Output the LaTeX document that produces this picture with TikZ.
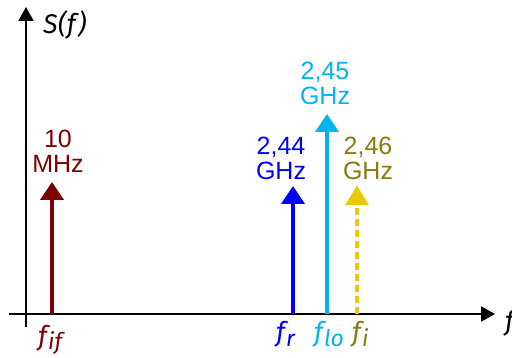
\documentclass[tikz,border=0pt]{standalone}
\usepackage{fontspec}
\setmainfont{Liberation Sans}
\newfontfamily\ffam{Fira Sans}
\usetikzlibrary{arrows.meta}
\definecolor{cif}{HTML}{7F0000}
\definecolor{cr}{HTML}{0000FF}
\definecolor{clo}{HTML}{00B4F0}
\definecolor{citext}{HTML}{8A7A10}
\definecolor{ciarr}{HTML}{E6CC00}
\newcommand{\fsub}[1]{f\kern1pt\raisebox{-5pt}{\fontsize{23}{23}\selectfont #1}}
\tikzset{
  axis/.style={line width=2pt,-{Triangle[length=14pt,width=15pt]}},
  spec/.style={line width=4pt,-{Triangle[length=18pt,width=23pt]}},
  lbl/.style={font=\fontsize{25}{25}\selectfont,align=center,inner sep=0pt},
  flbl/.style={font=\ffam\itshape\fontsize{27}{27}\selectfont,inner sep=0pt,anchor=base},
}
\begin{document}
\begin{tikzpicture}[x=1pt,y=-1pt]
\useasboundingbox (0,0) rectangle (512,358);
% axes
\coordinate (xs) at (9,314);
\coordinate (xe) at (495,314);
\coordinate (ys) at (26,327);
\coordinate (ye) at (26,7);
\draw[axis] (xs) -- (xe);
\draw[axis] (ys) -- (ye);
\node[flbl,anchor=base west] (fl) at (505,331) {f};
\node[flbl,anchor=base west,font=\ffam\itshape\fontsize{27}{27}\selectfont] (sl) at (43,34) {S(f)};
% spectral lines
\coordinate (bif) at (52,314); \coordinate (tif) at (52,182);
\coordinate (br) at (293,314); \coordinate (tr) at (293,186);
\coordinate (blo) at (327,314); \coordinate (tlo) at (327,114);
\coordinate (bi) at (357,314); \coordinate (ti) at (357,186);
\draw[spec,cif] (bif) -- (tif);
\draw[spec,cr] (br) -- (tr);
\draw[spec,clo] (blo) -- (tlo);
\draw[line width=4pt,ciarr,dash pattern=on 7pt off 4pt] (bi) -- (357,205);
\draw[ciarr,fill=ciarr] (345.5,205) -- (368.5,205) -- (ti) -- cycle;
% labels above
\node[lbl,cif,anchor=base] (lif) at (58,173) {10\\MHz};
\node[lbl,cr,anchor=base] (lr) at (281,180) {2,44\\GHz};
\node[lbl,clo,anchor=base] (llo) at (325,105) {2,45\\GHz};
\node[lbl,citext,anchor=base] (li) at (368,180) {2,46\\GHz};
% labels below
\node[flbl,cif,anchor=base west] (nif) at (38,345) {\fsub{if}};
\node[flbl,cr,anchor=base west] (nr) at (276,342) {\fsub{r}};
\node[flbl,clo,anchor=base west] (nlo) at (314,342) {\fsub{lo}};
\node[flbl,citext,anchor=base west] (ni) at (352,342) {\fsub{i}};
\end{tikzpicture}
\end{document}
